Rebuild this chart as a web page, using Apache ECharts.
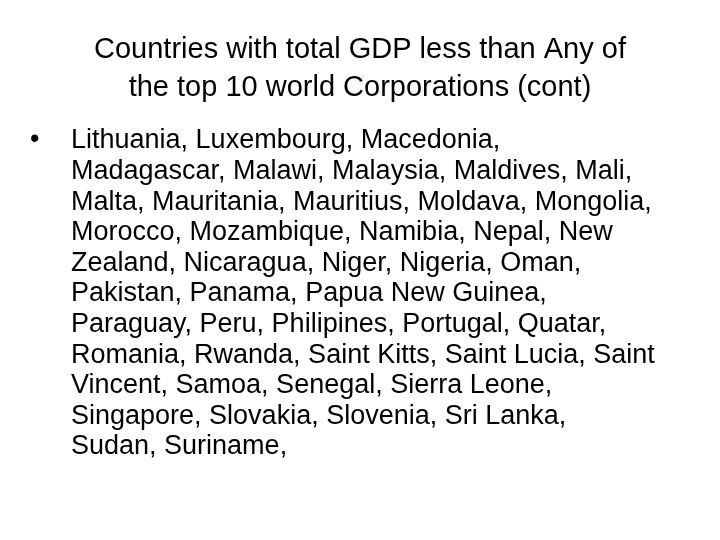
<!DOCTYPE html>
<html><head><meta charset="utf-8">
<script src="https://cdn.jsdelivr.net/npm/echarts@6/dist/echarts.min.js"></script>
<style>html,body{margin:0;background:#fff}#c{width:720px;height:540px}</style>
</head><body><div id="c"></div>
<script>
var titleLines = ["Countries with total GDP less than Any of", "the top 10 world Corporations (cont)"];
var bodyLines = [
"Lithuania, Luxembourg, Macedonia,",
"Madagascar, Malawi, Malaysia, Maldives, Mali,",
"Malta, Mauritania, Mauritius, Moldava, Mongolia,",
"Morocco, Mozambique, Namibia, Nepal, New",
"Zealand, Nicaragua, Niger, Nigeria, Oman,",
"Pakistan, Panama, Papua New Guinea,",
"Paraguay, Peru, Philipines, Portugal, Quatar,",
"Romania, Rwanda, Saint Kitts, Saint Lucia, Saint",
"Vincent, Samoa, Senegal, Sierra Leone,",
"Singapore, Slovakia, Slovenia, Sri Lanka,",
"Sudan, Suriname,"
];
var chart = echarts.init(document.getElementById('c'));
var els = [];
var F = '"Liberation Sans", Arial, sans-serif';
titleLines.forEach(function(t,i){
  els.push({type:'text',x:360,y:50+i*38,style:{text:t,font:'29px '+F,fill:'#000',textAlign:'center',textVerticalAlign:'middle'}});
});
els.push({type:'text',x:30,y:140,style:{text:'•',font:'27px '+F,fill:'#000',textVerticalAlign:'middle'}});
bodyLines.forEach(function(t,i){
  els.push({type:'text',x:71,y:141+i*30.6,style:{text:t,font:'27px '+F,fill:'#000',textVerticalAlign:'middle'}});
});
chart.setOption({graphic:els});
</script></body></html>
